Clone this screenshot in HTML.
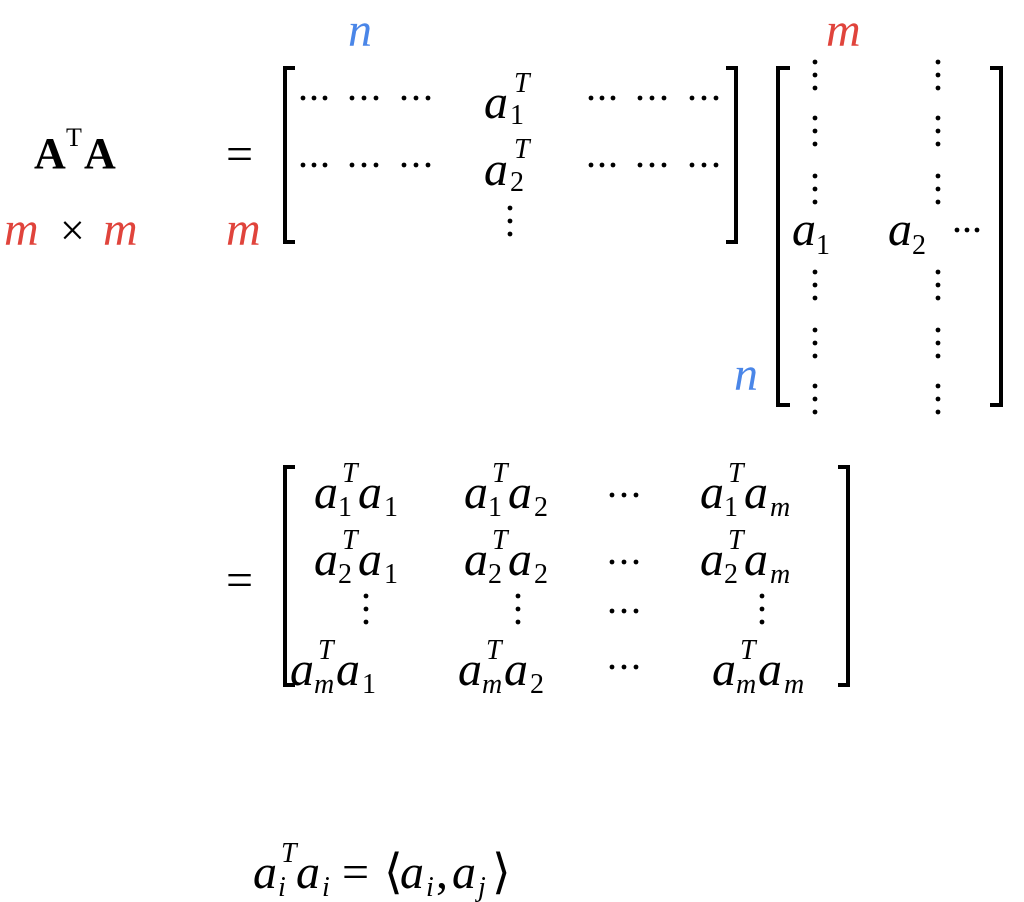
<!DOCTYPE html>
<html><head><meta charset="utf-8"><style>
html,body{margin:0;padding:0;background:#fff;}
svg{display:block}
text{font-family:"Liberation Serif","DejaVu Serif",serif;}
.i{font-style:italic}
.r{fill:#e0443c}
.b{fill:#4a86e8}
</style></head><body>
<svg width="1024" height="902" viewBox="0 0 1024 902" xmlns="http://www.w3.org/2000/svg">
<defs>
<g id="hd">
<circle cx="303" cy="98" r="2.4"/><circle cx="314" cy="98" r="2.4"/><circle cx="325" cy="98" r="2.4"/>
<circle cx="352" cy="98" r="2.4"/><circle cx="364" cy="98" r="2.4"/><circle cx="376" cy="98" r="2.4"/>
<circle cx="404" cy="98" r="2.4"/><circle cx="416" cy="98" r="2.4"/><circle cx="428" cy="98" r="2.4"/>
</g>
<g id="vd">
<circle cx="0" cy="0" r="2.4"/><circle cx="0" cy="13" r="2.4"/><circle cx="0" cy="26" r="2.4"/>
</g>
<g id="hd3"><circle cx="0" cy="0" r="2.4"/><circle cx="12" cy="0" r="2.4"/><circle cx="24" cy="0" r="2.4"/></g>
</defs>
<g font-size="48">
<text x="348" y="46" class="i b">n</text>
<text x="826" y="46" class="i r">m</text>
<text x="34" y="168" font-weight="bold" font-size="44">A</text>
<text x="66" y="146" font-size="26">T</text>
<text x="84" y="168" font-weight="bold" font-size="44">A</text>
<text x="4" y="245" class="i r">m</text>
<text x="60" y="245" font-size="44">×</text>
<text x="103" y="245" class="i r">m</text>
<text x="226" y="170">=</text>
<text x="226" y="245" class="i r">m</text>
<text x="734" y="390" class="i b">n</text>
</g>
<g stroke="#000" stroke-width="4" fill="none">
<path d="M295 68 H285 V242 H295"/>
<path d="M726 68 H736 V242 H726"/>
<path d="M790 68 H778 V405 H790"/>
<path d="M990 68 H1001 V405 H990"/>
<path d="M295 467 H285 V685 H295"/>
<path d="M838 467 H848 V685 H838"/>
</g>
<g font-size="48" class="i">
<text x="484" y="118">a</text><text x="514" y="92" font-size="28">T</text><text x="510" y="124" font-size="28" font-style="normal">1</text>
<text x="484" y="185">a</text><text x="514" y="158" font-size="28">T</text><text x="510" y="191" font-size="28" font-style="normal">2</text>
<text x="792" y="245">a</text><text x="816" y="254" font-size="28" font-style="normal">1</text>
<text x="888" y="245">a</text><text x="912" y="254" font-size="28" font-style="normal">2</text>
</g>
<g fill="#000">
<use href="#hd"/>
<use href="#hd" x="0" y="67"/>
<use href="#hd" x="288" y="0"/>
<use href="#hd" x="288" y="67"/>
<circle cx="510" cy="208" r="2.4"/><circle cx="510" cy="221" r="2.4"/><circle cx="510" cy="234" r="2.4"/>
<use href="#vd" x="815" y="62"/><use href="#vd" x="815" y="118"/><use href="#vd" x="815" y="176"/>
<use href="#vd" x="815" y="272"/><use href="#vd" x="815" y="330"/><use href="#vd" x="815" y="386"/>
<use href="#vd" x="938" y="62"/><use href="#vd" x="938" y="118"/><use href="#vd" x="938" y="176"/>
<use href="#vd" x="938" y="272"/><use href="#vd" x="938" y="330"/><use href="#vd" x="938" y="386"/>
<circle cx="957" cy="230" r="2.4"/><circle cx="967" cy="230" r="2.4"/><circle cx="977" cy="230" r="2.4"/>
<use href="#vd" x="366" y="596"/><use href="#vd" x="518" y="596"/><use href="#vd" x="762" y="596"/>
<use href="#hd3" x="612" y="495"/><use href="#hd3" x="612" y="562"/><use href="#hd3" x="612" y="611"/><use href="#hd3" x="612" y="667"/>
</g>
<text x="226" y="596" font-size="48">=</text>
<g font-size="48" class="i">
<text x="314" y="508">a</text><text x="342" y="482" font-size="28">T</text><text x="338" y="516" font-size="28" font-style="normal">1</text><text x="358" y="508">a</text><text x="384" y="516" font-size="28" font-style="normal">1</text>
<text x="464" y="508">a</text><text x="492" y="482" font-size="28">T</text><text x="488" y="516" font-size="28" font-style="normal">1</text><text x="508" y="508">a</text><text x="534" y="516" font-size="28" font-style="normal">2</text>
<text x="700" y="508">a</text><text x="728" y="482" font-size="28">T</text><text x="724" y="516" font-size="28" font-style="normal">1</text><text x="744" y="508">a</text><text x="770" y="516" font-size="28">m</text>
<text x="314" y="575">a</text><text x="342" y="549" font-size="28">T</text><text x="338" y="583" font-size="28" font-style="normal">2</text><text x="358" y="575">a</text><text x="384" y="583" font-size="28" font-style="normal">1</text>
<text x="464" y="575">a</text><text x="492" y="549" font-size="28">T</text><text x="488" y="583" font-size="28" font-style="normal">2</text><text x="508" y="575">a</text><text x="534" y="583" font-size="28" font-style="normal">2</text>
<text x="700" y="575">a</text><text x="728" y="549" font-size="28">T</text><text x="724" y="583" font-size="28" font-style="normal">2</text><text x="744" y="575">a</text><text x="770" y="583" font-size="28">m</text>
<text x="290" y="685">a</text><text x="318" y="659" font-size="28">T</text><text x="314" y="693" font-size="28">m</text><text x="336" y="685">a</text><text x="362" y="693" font-size="28" font-style="normal">1</text>
<text x="458" y="685">a</text><text x="486" y="659" font-size="28">T</text><text x="482" y="693" font-size="28">m</text><text x="504" y="685">a</text><text x="530" y="693" font-size="28" font-style="normal">2</text>
<text x="712" y="685">a</text><text x="740" y="659" font-size="28">T</text><text x="736" y="693" font-size="28">m</text><text x="758" y="685">a</text><text x="784" y="693" font-size="28">m</text>
<text x="253" y="888">a</text><text x="281" y="862" font-size="28">T</text><text x="278" y="896" font-size="28">i</text><text x="296" y="888">a</text><text x="322" y="896" font-size="28">i</text>
<text x="342" y="888" font-style="normal">=</text>
<text x="384" y="888" font-style="normal">⟨</text>
<text x="400" y="888">a</text><text x="426" y="896" font-size="28">i</text><text x="436" y="888" font-style="normal">,</text>
<text x="452" y="888">a</text><text x="478" y="896" font-size="28">j</text>
<text x="492" y="888" font-style="normal">⟩</text>
</g>
</svg>
</body></html>
